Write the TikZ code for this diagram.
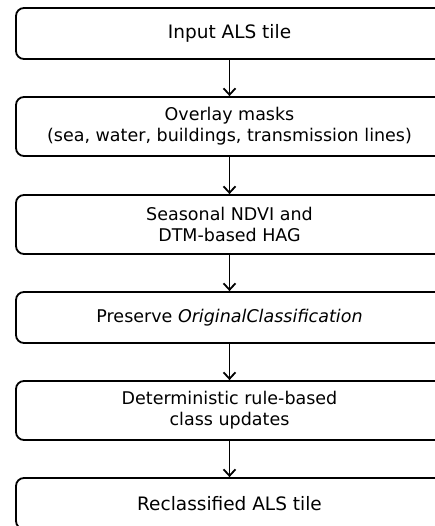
\documentclass[tikz,border=0pt]{standalone}
\usepackage{fontspec}
\setmainfont{DejaVu Sans}
\usetikzlibrary{arrows.meta}

\begin{document}
\begin{tikzpicture}[x=1pt,y=1pt,
    stagebox/.style={draw,line width=1.8pt,rounded corners=8pt,minimum width=427pt,
      align=center,font=\fontsize{17.5}{21}\selectfont,inner sep=0pt},
    endbox/.style={stagebox,minimum height=51pt,font=\fontsize{18.5}{22}\selectfont},
    flowarrow/.style={line width=1.8pt,-{Straight Barb[length=6.5pt,width=12pt]}}]
    \useasboundingbox (0,0) rectangle (435,-526);
    \node[endbox] (tile) at (229.5,-33.5) {Input ALS tile};
    \node[stagebox,minimum height=59pt] (masks) at (229.5,-126.5)
      {Overlay masks\\(sea, water, buildings, transmission lines)};
    \node[stagebox,minimum height=59pt] (ndvi) at (229.5,-224.5)
      {Seasonal NDVI and\\DTM-based HAG};
    \node[stagebox,minimum height=51pt] (keep) at (229.5,-317.5)
      {Preserve \textit{OriginalClassification}};
    \node[stagebox,minimum height=59pt] (rules) at (229.5,-410.5)
      {Deterministic rule-based\\class updates};
    \node[endbox] (out) at (229.5,-503.5) {Reclassified ALS tile};
    \draw[flowarrow] (tile) -- (masks);
    \draw[flowarrow] (masks) -- (ndvi);
    \draw[flowarrow] (ndvi) -- (keep);
    \draw[flowarrow] (keep) -- (rules);
    \draw[flowarrow] (rules) -- (out);
\end{tikzpicture}
\end{document}
